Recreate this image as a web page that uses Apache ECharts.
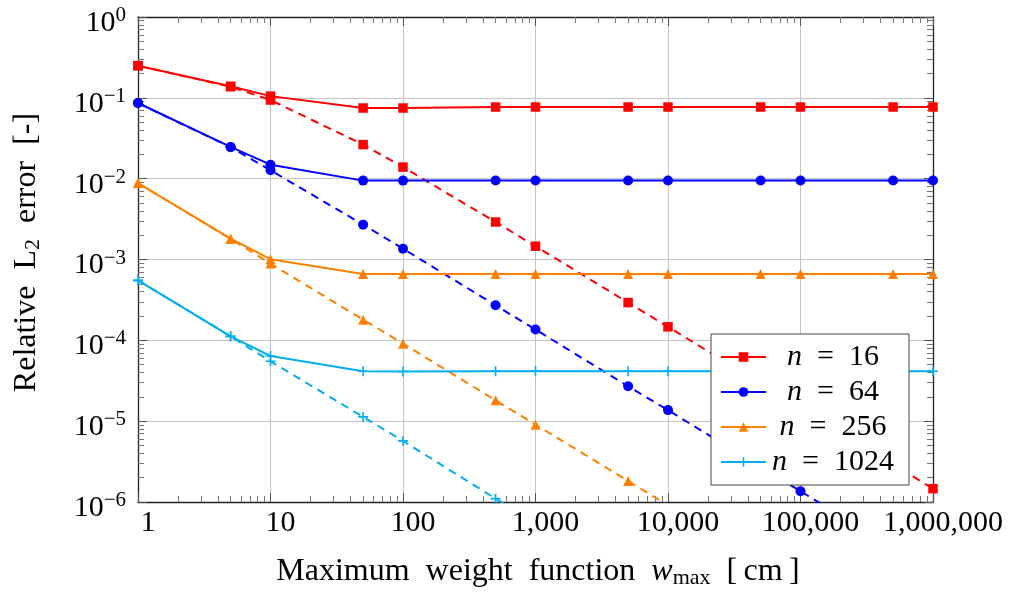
<!DOCTYPE html>
<html><head><meta charset="utf-8">
<script src="https://cdn.jsdelivr.net/npm/echarts@6/dist/echarts.min.js"></script>
<style>html,body{margin:0;padding:0;background:#fff}#c{width:1012px;height:594px}</style>
</head><body><div id="c"></div>
<script>
// ---- data ----
const xValues = [1, 5, 10, 50, 100, 500, 1000, 5000, 10000, 50000, 100000, 500000, 1000000];

const n16    = [0.25, 0.139, 0.105, 0.0748, 0.0748, 0.077, 0.077, 0.077, 0.077, 0.077, 0.077, 0.077, 0.077];
const n16Ref = [0.25, 0.137, 0.094, 0.0264, 0.0139, 0.00291, 0.00146, 2.93e-4, 1.47e-4, 2.93e-5, 1.46e-5, 2.92e-6, 1.46e-6];

const n64    = [0.0863, 0.0247, 0.0149, 0.00946, 0.00946, 0.0095, 0.0095, 0.0095, 0.0095, 0.0095, 0.0095, 0.0095, 0.0095];
const n64Ref = [0.0863, 0.0245, 0.0127, 0.0027, 0.00136, 2.71e-4, 1.36e-4, 2.70e-5, 1.37e-5, 2.7e-6, 1.36e-6, 2.7e-7];

const n256    = [0.00883, 0.00181, 0.00101, 6.63e-4, 6.6e-4, 6.63e-4, 6.63e-4, 6.63e-4, 6.63e-4, 6.63e-4, 6.63e-4, 6.63e-4, 6.63e-4];
const n256Ref = [0.00883, 0.0018, 8.9e-4, 1.80e-4, 9.1e-5, 1.81e-5, 9.06e-6, 1.82e-6, 9.1e-7];

const n1024    = [5.52e-4, 1.12e-4, 6.4e-5, 4.14e-5, 4.12e-5, 4.14e-5, 4.14e-5, 4.14e-5, 4.14e-5, 4.14e-5, 4.14e-5, 4.14e-5, 4.14e-5];
const n1024Ref = [5.52e-4, 1.12e-4, 5.5e-5, 1.13e-5, 5.7e-6, 1.10e-6, 5.6e-7];

const legendNames = ['n = 16', 'n = 64', 'n = 256', 'n = 1024'];
const xTickLabels = ['1', '10', '100', '1,000', '10,000', '100,000', '1,000,000'];
const yTickExponents = ['0', '−1', '−2', '−3', '−4', '−5', '−6'];

// ---- chart ----
const FONT = '"Liberation Serif", "Times New Roman", serif';
const pairs = ys => ys.map((y, i) => [xValues[i], y]);
const plusPath = 'path://M4.2,0H5.8V4.2H10V5.8H5.8V10H4.2V5.8H0V4.2H4.2Z';

const styles = [
  { color: '#ff0000', symbol: 'rect', size: 9.5 },
  { color: '#0000ff', symbol: 'circle', size: 10 },
  { color: '#ff8000', symbol: 'triangle', size: 10 },
  { color: '#00aeef', symbol: plusPath, size: 10 }
];
const solidData = [n16, n64, n256, n1024];
const refData = [n16Ref, n64Ref, n256Ref, n1024Ref];

const series = [];
styles.forEach((s, k) => {
  series.push({
    name: legendNames[k] + ' ref', type: 'line', data: pairs(refData[k]),
    symbol: s.symbol, symbolSize: s.size, showAllSymbol: true, clip: true,
    lineStyle: { color: s.color, width: 2, type: [8, 6] },
    itemStyle: { color: s.color }, z: 2
  });
});
styles.forEach((s, k) => {
  series.push({
    name: legendNames[k], type: 'line', data: pairs(solidData[k]),
    symbol: s.symbol, symbolSize: s.size, showAllSymbol: true, clip: true,
    lineStyle: { color: s.color, width: 2 },
    itemStyle: { color: s.color }, z: 3
  });
});

function minorVals(lo, hi) {
  const out = [];
  for (let e = lo; e < hi; e++) for (let k = 2; k <= 9; k++) out.push(k * Math.pow(10, e));
  return out;
}
const xMinor = minorVals(0, 6);
const yMinor = minorVals(-6, 0);

const axisLineStyle = { color: '#222', width: 1.3 };
const majorTick = { show: true, inside: true, length: 9, lineStyle: { color: '#555', width: 1 } };

function tickOnlyAxis(base, position, custom) {
  return Object.assign({}, base, {
    position: position,
    axisLine: { show: false }, splitLine: { show: false }, axisLabel: { show: false },
    axisTick: { show: true, inside: true, length: 6, customValues: custom, lineStyle: { color: '#777', width: 1 } },
    name: ''
  });
}

const xBase = { type: 'log', logBase: 10, min: 1, max: 1e6, interval: 1, gridIndex: 0 };
const yBase = { type: 'log', logBase: 10, min: 1e-6, max: 1, interval: 1, gridIndex: 0 };
const SP = '\u2002';

const option = {
  animation: false,
  backgroundColor: '#fff',
  grid: { left: 138, top: 17, width: 795, height: 485, containLabel: false },
  legend: {
    data: legendNames,
    orient: 'vertical',
    left: 711, top: 334,
    padding: [8, 14, 8, 9],
    itemWidth: 45, itemHeight: 12, itemGap: 5,
    backgroundColor: '#fff', borderColor: '#444', borderWidth: 1, borderRadius: 0,
    formatter: name => '{i|n}{a|' + SP + '=' + SP + name.split('= ')[1] + '}',
    textStyle: {
      fontFamily: FONT, fontSize: 30, color: '#000', lineHeight: 30, width: 124,
      rich: {
        i: { fontFamily: FONT, fontSize: 30, fontStyle: 'italic', color: '#000', align: 'center', lineHeight: 30 },
        a: { fontFamily: FONT, fontSize: 30, color: '#000', align: 'center', lineHeight: 30 }
      }
    }
  },
  xAxis: [
    Object.assign({}, xBase, {
      position: 'bottom',
      axisLine: { show: true, lineStyle: axisLineStyle },
      axisTick: majorTick,
      splitLine: { show: true, lineStyle: { color: '#c4c4c4', width: 1 } },
      axisLabel: {
        fontFamily: FONT, fontSize: 30, color: '#000', margin: 6, padding: [0, 0, 0, 20],
        formatter: v => xTickLabels[Math.round(Math.log10(v))]
      },
      name: '{a|Maximum' + SP + 'weight' + SP + 'function' + SP + '}{i|w}{s|max}{a|' + SP + '[\u2009cm\u2009]}',
      nameLocation: 'middle', nameGap: 53,
      nameTextStyle: {
        padding: [0, 0, 0, 5],
        rich: {
          a: { fontFamily: FONT, fontSize: 32, color: '#000', lineHeight: 34 },
          i: { fontFamily: FONT, fontSize: 32, fontStyle: 'italic', color: '#000', lineHeight: 34 },
          s: { fontFamily: FONT, fontSize: 22, color: '#000', verticalAlign: 'bottom', lineHeight: 26 }
        }
      }
    }),
    Object.assign({}, xBase, {
      position: 'top',
      axisLine: { show: true, lineStyle: axisLineStyle },
      axisTick: majorTick, splitLine: { show: false }, axisLabel: { show: false }
    }),
    tickOnlyAxis(xBase, 'bottom', xMinor),
    tickOnlyAxis(xBase, 'top', xMinor)
  ],
  yAxis: [
    Object.assign({}, yBase, {
      position: 'left',
      axisLine: { show: true, lineStyle: axisLineStyle },
      axisTick: majorTick,
      splitLine: { show: true, lineStyle: { color: '#c4c4c4', width: 1 } },
      axisLabel: {
        margin: 12, padding: [6, 0, 0, 0],
        formatter: v => '{b|10}{s|' + yTickExponents[-Math.round(Math.log10(v))] + '}',
        rich: {
          b: { fontFamily: FONT, fontSize: 30, color: '#000', lineHeight: 30, padding: [6, 0, 0, 0] },
          s: { fontFamily: FONT, fontSize: 21, color: '#000', lineHeight: 21, verticalAlign: 'top' }
        }
      },
      name: '{a|Relative' + SP + 'L}{s|2}{a|' + SP + 'error' + SP + '[-]}',
      nameLocation: 'middle', nameGap: 94,
      nameTextStyle: {
        padding: [0, 0, 0, 14],
        rich: {
          a: { fontFamily: FONT, fontSize: 32, color: '#000', lineHeight: 34 },
          s: { fontFamily: FONT, fontSize: 22, color: '#000', verticalAlign: 'bottom', lineHeight: 26 }
        }
      }
    }),
    Object.assign({}, yBase, {
      position: 'right',
      axisLine: { show: true, lineStyle: axisLineStyle },
      axisTick: majorTick, splitLine: { show: false }, axisLabel: { show: false }
    }),
    tickOnlyAxis(yBase, 'left', yMinor),
    tickOnlyAxis(yBase, 'right', yMinor)
  ],
  series: series
};

const chart = echarts.init(document.getElementById('c'), null, { renderer: 'canvas' });
chart.setOption(option);
</script>
</body></html>
